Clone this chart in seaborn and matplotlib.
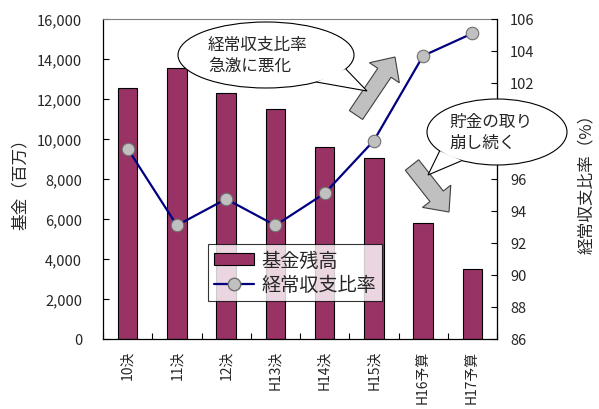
import numpy as np
import pandas as pd
import matplotlib
matplotlib.use("Agg")
import matplotlib.pyplot as plt
import seaborn as sns
from matplotlib.patches import Ellipse, Polygon, PathPatch, Patch
from matplotlib.lines import Line2D
from matplotlib.path import Path

categories = ["10決", "11決", "12決", "H13決", "H14決", "H15決", "H16予算", "H17予算"]
fund_balance = [12550, 13550, 12300, 11500, 9600, 9050, 5800, 3500]
ratio = [97.9, 93.1, 94.75, 93.1, 95.1, 98.4, 103.7, 105.1]
left_ticks = [0, 2000, 4000, 6000, 8000, 10000, 12000, 14000, 16000]
right_ticks = [86, 88, 90, 92, 94, 96, 98, 100, 102, 104, 106]
hidden_right = [98, 100]  # covered by the callout bubble in the reference

sns.set_theme(style="white")
FONT = ["Noto Sans CJK JP", "DejaVu Sans"]
plt.rcParams["font.family"] = FONT

W, H = 599, 410
fig = plt.figure(figsize=(W / 100, H / 100), dpi=100)
L, R, T, B = 103, 497, 20, 340
ax = fig.add_axes([L / W, 1 - B / H, (R - L) / W, (B - T) / H])

df = pd.DataFrame({"cat": categories, "fund": fund_balance, "ratio": ratio})
sns.barplot(data=df, x="cat", y="fund", ax=ax, color="#993366", width=0.4,
            edgecolor="black", linewidth=0.8, saturation=1)
ax.set_ylim(0, 16000)
ax.set_yticks(left_ticks)
ax.set_yticklabels([f"{v:,}" for v in left_ticks], fontsize=10.5)
ax.set_xlim(-0.5, len(categories) - 0.5)
ax.set_xlabel("")
ax.set_ylabel("基金（百万）", fontsize=12)
ax.yaxis.set_label_coords((29 - L) / (R - L), 0.5)
ax.set_xticks(range(len(categories)))
ax.set_xticklabels(categories, rotation=90, fontsize=10)
ax.tick_params(axis="x", length=0, pad=8)
ax.set_xticks(np.arange(-0.5, len(categories), 1), minor=True)
ax.tick_params(axis="x", which="minor", direction="in", length=4, color="black", width=0.8, bottom=True)
ax.tick_params(axis="y", direction="in", length=4, width=0.8, color="black", left=True, pad=15)
for s in ["left", "bottom"]:
    ax.spines[s].set_color("black")
    ax.spines[s].set_linewidth(0.9)
for s in ["top", "right"]:
    ax.spines[s].set_color("#808080")
    ax.spines[s].set_linewidth(0.8)

ax2 = ax.twinx()
sns.pointplot(data=df, x="cat", y="ratio", ax=ax2, color="#000080", markers="o",
              linestyles="-", linewidth=1.6, markersize=9,
              markerfacecolor="#C0C0C0", markeredgecolor="#707070", markeredgewidth=0.8)
ax2.set_ylim(86, 106)
ax2.set_yticks(right_ticks)
ax2.set_yticklabels(["" if v in hidden_right else str(v) for v in right_ticks], fontsize=10.5)
ax2.set_ylabel("経常収支比率（%）", fontsize=12, rotation=90)
ax2.yaxis.set_label_coords((578 - L) / (R - L), 0.5)
ax2.tick_params(axis="y", direction="in", length=4, width=0.8, color="black", right=True, pad=9.5)
ax2.set_xlim(-0.5, len(categories) - 0.5)
ax2.set_xlabel("")
ax2.spines["right"].set_color("black")
ax2.spines["right"].set_linewidth(0.9)
for s in ["left", "top", "bottom"]:
    ax2.spines[s].set_visible(False)

handles = [Patch(facecolor="#993366", edgecolor="black", linewidth=0.8),
           Line2D([0], [0], color="#000080", lw=1.6, marker="o", markersize=9,
                  markerfacecolor="#C0C0C0", markeredgecolor="#707070")]
leg = ax2.legend(handles, ["基金残高", "経常収支比率"], loc="lower left",
                 bbox_to_anchor=((208 - L) / (R - L), (B - 302) / (B - T)),
                 fontsize=13.8, frameon=True, fancybox=False, edgecolor="black",
                 handlelength=2.1, handleheight=0.6, borderpad=0.3, labelspacing=0.2,
                 handletextpad=0.4, borderaxespad=0)
leg.get_frame().set_linewidth(0.8)

def fx(px):
    return px / W

def fy(py):
    return 1 - py / H

def callout(cx, cy, w, h, a1, a2, tip, text, tx, fs):
    e = Ellipse((fx(cx), fy(cy)), w / W, h / H, transform=fig.transFigure,
                facecolor="white", edgecolor="black", linewidth=0.8, zorder=5)
    fig.patches.append(e)
    pts = []
    for a in (a1, a2):
        r = np.deg2rad(a)
        pts.append((cx + w / 2 * np.cos(r), cy - h / 2 * np.sin(r)))
    verts = [(fx(pts[0][0]), fy(pts[0][1])), (fx(tip[0]), fy(tip[1])),
             (fx(pts[1][0]), fy(pts[1][1]))]
    p = PathPatch(Path(verts, [Path.MOVETO, Path.LINETO, Path.LINETO]),
                  transform=fig.transFigure, facecolor="white", edgecolor="black",
                  linewidth=0.8, zorder=6)
    fig.patches.append(p)
    fig.text(fx(tx), fy(cy), text, ha="left", va="center", fontsize=fs,
             family=FONT, zorder=7, linespacing=1.25)

def block_arrow(x0, y0, x1, y1, sw, hw, hl):
    d = np.array([x1 - x0, y1 - y0], float)
    n = np.linalg.norm(d)
    u = d / n
    v = np.array([-u[1], u[0]])
    p0 = np.array([x0, y0], float)
    base = p0 + u * (n - hl)
    tip = np.array([x1, y1], float)
    pts = [p0 + v * sw / 2, base + v * sw / 2, base + v * hw / 2, tip,
           base - v * hw / 2, base - v * sw / 2, p0 - v * sw / 2]
    pts = [(fx(a), fy(b)) for a, b in pts]
    poly = Polygon(pts, closed=True, transform=fig.transFigure, facecolor="#C0C0C0",
                   edgecolor="#404040", linewidth=0.8, zorder=5)
    fig.patches.append(poly)

callout(266, 56, 176, 66, 305, 335, (367, 92), "経常収支比率\n急激に悪化", 208, 12)
block_arrow(356, 116, 395, 58, 16, 36, 19)
callout(497, 133, 140, 66, 215, 240, (428, 176), "貯金の取り\n崩し続く", 449, 12)
block_arrow(412, 166, 449, 213, 17, 36, 20)

fig.savefig("out.png", dpi=100)
